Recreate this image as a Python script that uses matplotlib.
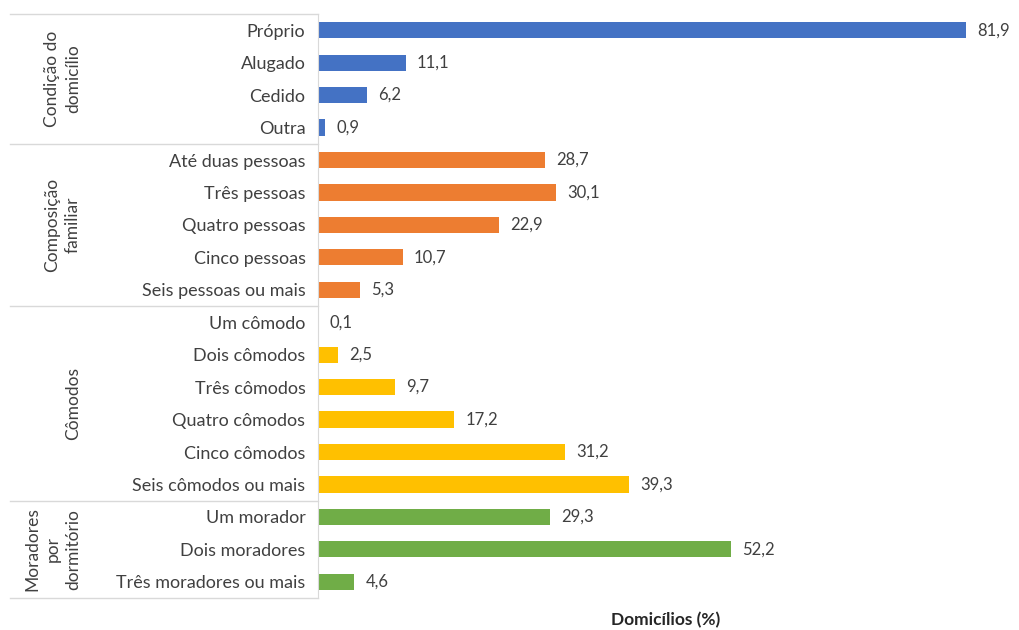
import matplotlib.pyplot as plt
from matplotlib.transforms import blended_transform_factory

plt.rcParams['font.family'] = ['Lato', 'DejaVu Sans']

# Dados por grupo
condicao = ["Próprio", "Alugado", "Cedido", "Outra"]
condicao_vals = [81.9, 11.1, 6.2, 0.9]

composicao = ["Até duas pessoas", "Três pessoas", "Quatro pessoas",
              "Cinco pessoas", "Seis pessoas ou mais"]
composicao_vals = [28.7, 30.1, 22.9, 10.7, 5.3]

comodos = ["Um cômodo", "Dois cômodos", "Três cômodos", "Quatro cômodos",
           "Cinco cômodos", "Seis cômodos ou mais"]
comodos_vals = [0.1, 2.5, 9.7, 17.2, 31.2, 39.3]

moradores = ["Um morador", "Dois moradores", "Três moradores ou mais"]
moradores_vals = [29.3, 52.2, 4.6]

grupos = [
    ("Condição do\ndomicílio", condicao, condicao_vals, "#4472C4"),
    ("Composição\nfamiliar", composicao, composicao_vals, "#ED7D31"),
    ("Cômodos", comodos, comodos_vals, "#FFC000"),
    ("Moradores\npor\ndormitório", moradores, moradores_vals, "#70AD47"),
]

labels, vals, cores = [], [], []
for _, cats, v, c in grupos:
    labels += cats
    vals += v
    cores += [c] * len(cats)

n = len(labels)
y = list(range(n))

fig = plt.figure(figsize=(10.19, 6.30), dpi=100)
ax = fig.add_axes([318 / 1019, 32 / 630, 692 / 1019, 584 / 630])

ax.barh(y, vals, color=cores, height=0.5)
for yi, v in zip(y, vals):
    ax.text(v + 1.4, yi, f"{v:.1f}".replace(".", ","), va="center",
            ha="left", fontsize=12, color="#404040")

ax.set_ylim(n - 0.5, -0.5)
ax.set_xlim(0, 87.5)
ax.set_yticks(y)
ax.set_yticklabels(labels, fontsize=13, color="#404040")
ax.tick_params(axis="y", length=0, pad=9)
ax.set_xticks([])
for s in ["top", "right", "bottom"]:
    ax.spines[s].set_visible(False)
ax.spines["left"].set_color("#D9D9D9")

# Linhas separadoras e rótulos dos grupos
tr = blended_transform_factory(ax.transAxes, ax.transData)
x_rotulo = (81 - 318) / 692
inicio = -0.5
for nome, cats, _, _ in grupos:
    fim = inicio + len(cats)
    ax.plot([-0.445, 0], [inicio, inicio], transform=tr, color="#D9D9D9",
            lw=1, clip_on=False)
    ax.text(x_rotulo, (inicio + fim) / 2, nome, transform=tr, rotation=90,
            ha="right", va="center", fontsize=12.5, color="#404040",
            linespacing=1.35, multialignment="center")
    inicio = fim
ax.plot([-0.445, 0], [inicio, inicio], transform=tr, color="#D9D9D9",
        lw=1, clip_on=False)

fig.text(666 / 1019, 1 - 620 / 630, "Domicílios (%)", ha="center",
         va="center", fontsize=12.5, fontweight="bold", color="#262626")

fig.savefig("out.png", dpi=100)
